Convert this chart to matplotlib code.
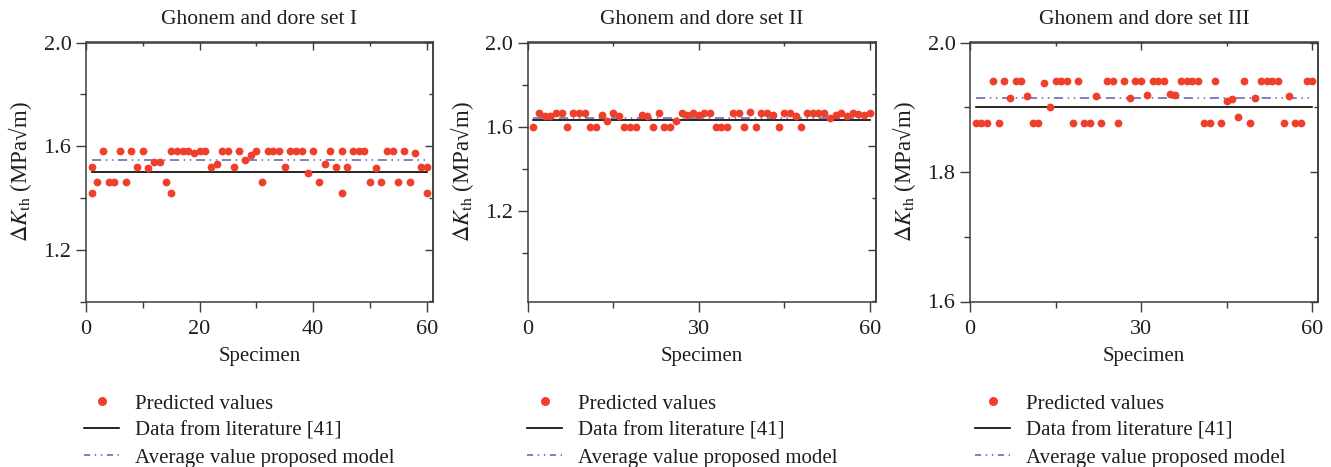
import matplotlib
matplotlib.use("Agg")
import matplotlib.pyplot as plt
from matplotlib.lines import Line2D
from matplotlib.ticker import FixedLocator, FormatStrFormatter

plt.rcParams['font.family'] = ['Liberation Serif', 'DejaVu Serif']
plt.rcParams['mathtext.fontset'] = 'stix'

# ---------------- data ----------------
titles = ["Ghonem and dore set I", "Ghonem and dore set II", "Ghonem and dore set III"]

set1_specimen = [1, 1, 2, 3, 4, 5, 6, 7, 8, 9, 10, 11, 12, 13, 14, 15, 15,
                 16, 17, 18, 19, 20, 21, 22, 23, 24, 25, 26, 27, 28, 29, 30,
                 31, 32, 33, 34, 35, 36, 37, 38, 39, 40, 41, 42, 43, 44, 45, 45,
                 46, 47, 48, 49, 50, 51, 52, 53, 54, 55, 56, 57, 58, 59, 60, 60]
set1_pred = [1.42, 1.52, 1.46, 1.58, 1.46, 1.46, 1.58, 1.46, 1.58, 1.52, 1.58,
             1.515, 1.54, 1.54, 1.46, 1.42, 1.58,
             1.58, 1.58, 1.58, 1.575, 1.58, 1.58, 1.52, 1.53, 1.58, 1.58, 1.52,
             1.58, 1.545, 1.565, 1.58,
             1.46, 1.58, 1.58, 1.58, 1.52, 1.58, 1.58, 1.58, 1.495, 1.58, 1.46,
             1.53, 1.58, 1.52, 1.42, 1.58,
             1.52, 1.58, 1.58, 1.58, 1.46, 1.515, 1.46, 1.58, 1.58, 1.46, 1.58,
             1.46, 1.575, 1.52, 1.52, 1.42]
set1_literature = 1.50
set1_average = 1.545

set2_specimen = list(range(1, 61))
set2_pred = [1.60, 1.665, 1.65, 1.65, 1.665, 1.665, 1.60, 1.665, 1.665, 1.665,
             1.60, 1.60, 1.658, 1.628, 1.665, 1.652, 1.60, 1.60, 1.60, 1.655,
             1.65, 1.60, 1.665, 1.60, 1.60, 1.628, 1.665, 1.656, 1.665, 1.658,
             1.665, 1.665, 1.60, 1.60, 1.60, 1.665, 1.665, 1.60, 1.668, 1.60,
             1.665, 1.665, 1.655, 1.60, 1.665, 1.665, 1.652, 1.60, 1.665, 1.665,
             1.665, 1.665, 1.64, 1.658, 1.665, 1.65, 1.665, 1.66, 1.658, 1.665]
set2_literature = 1.633
set2_average = 1.642

set3_specimen = list(range(1, 61))
set3_pred = [1.875, 1.875, 1.875, 1.94, 1.875, 1.94, 1.915, 1.94, 1.94, 1.918,
             1.875, 1.875, 1.938, 1.90, 1.94, 1.94, 1.94, 1.875, 1.94, 1.875,
             1.875, 1.917, 1.875, 1.94, 1.94, 1.875, 1.94, 1.915, 1.94, 1.94,
             1.919, 1.94, 1.94, 1.94, 1.921, 1.919, 1.94, 1.94, 1.94, 1.94,
             1.875, 1.875, 1.94, 1.875, 1.91, 1.913, 1.885, 1.94, 1.875, 1.914,
             1.94, 1.94, 1.94, 1.94, 1.875, 1.918, 1.875, 1.875, 1.94, 1.94]
set3_literature = 1.90
set3_average = 1.914

y_limits = [(1.0, 2.0), (0.77, 2.0), (1.6, 2.0)]
y_major = [[1.2, 1.6, 2.0], [1.2, 1.6, 2.0], [1.6, 1.8, 2.0]]
y_minor = [[1.0, 1.4, 1.8], [1.0, 1.4, 1.8], [1.7, 1.9]]
x_major = [[0, 20, 40, 60], [0, 30, 60], [0, 30, 60]]
x_minor = [[10, 30, 50], [15, 45], [15, 45]]

legend_labels = ["Predicted values", "Data from literature [41]", "Average value proposed model"]

# ---------------- style ----------------
RED = '#ef3f2a'
BLUE = '#5a5fb0'
SPINE = '#3c3c3c'
TXT = '#1e1e1e'

W, H = 1331, 467
fig = plt.figure(figsize=(W / 100, H / 100), dpi=100)

axes_px = [(86, 432.5), (527.5, 875.5), (970, 1318)]
top_px, bot_px = 42.5, 301.5
legend_x = [84, 527, 975]

specimens = [set1_specimen, set2_specimen, set3_specimen]
preds = [set1_pred, set2_pred, set3_pred]
lits = [set1_literature, set2_literature, set3_literature]
avgs = [set1_average, set2_average, set3_average]

for i in range(3):
    l, r = axes_px[i]
    axw = r - l
    axh = bot_px - top_px
    ax = fig.add_axes([l / W, 1 - bot_px / H, axw / W, axh / H])
    xs, ys = specimens[i], preds[i]
    assert len(xs) == len(ys)
    xline = [min(xs), max(xs)]
    ax.plot(xline, [lits[i]] * 2, color='black', lw=1.2, zorder=2)
    ax.plot(xline, [avgs[i]] * 2, color=BLUE, lw=1.1, dashes=(6, 3, 1, 3, 1, 3), zorder=2)
    ax.plot(xs, ys, 'o', color=RED, ms=5.6, mec='none', zorder=3)

    ax.set_xlim(0, 61)
    ax.set_ylim(*y_limits[i])
    ax.xaxis.set_major_locator(FixedLocator(x_major[i]))
    ax.xaxis.set_minor_locator(FixedLocator(x_minor[i]))
    ax.yaxis.set_major_locator(FixedLocator(y_major[i]))
    ax.yaxis.set_minor_locator(FixedLocator(y_minor[i]))
    ax.yaxis.set_major_formatter(FormatStrFormatter('%.1f'))
    ax.tick_params(which='both', direction='out', colors=SPINE, labelcolor=TXT,
                   labelsize=16, width=1.0, top=False, right=False)
    ax.tick_params(which='major', length=7)
    ax.tick_params(which='minor', length=4)
    ax.tick_params(axis='x', pad=6)
    for s in ax.spines.values():
        s.set_color(SPINE)
        s.set_linewidth(1.1)

    # mirrored top axis (inward ticks)
    sx = ax.secondary_xaxis('top')
    sx.xaxis.set_major_locator(FixedLocator(x_major[i]))
    sx.xaxis.set_minor_locator(FixedLocator(x_minor[i]))
    sx.tick_params(which='both', direction='in', colors=SPINE, labeltop=False, width=1.0)
    sx.tick_params(which='major', length=6)
    sx.tick_params(which='minor', length=3)
    sx.spines['top'].set_color(SPINE)
    sx.spines['top'].set_linewidth(1.1)

    # mirrored right axis (inward ticks); set II's right axis keeps the 1.0-2.0 scale
    lo, hi = y_limits[i]
    if i == 1:
        f = lambda v, lo=lo, hi=hi: 1.0 + (v - lo) / (hi - lo)
        finv = lambda v, lo=lo, hi=hi: lo + (v - 1.0) * (hi - lo)
        sy = ax.secondary_yaxis('right', functions=(f, finv))
        sy.yaxis.set_major_locator(FixedLocator([1.2, 1.6, 2.0]))
        sy.yaxis.set_minor_locator(FixedLocator([1.0, 1.4, 1.8]))
    else:
        sy = ax.secondary_yaxis('right')
        sy.yaxis.set_major_locator(FixedLocator(y_major[i]))
        sy.yaxis.set_minor_locator(FixedLocator(y_minor[i]))
    sy.tick_params(which='both', direction='in', colors=SPINE, labelright=False, width=1.0)
    sy.tick_params(which='major', length=6)
    sy.tick_params(which='minor', length=3)
    sy.spines['right'].set_color(SPINE)
    sy.spines['right'].set_linewidth(1.1)

    ax.set_xlabel("Specimen", fontsize=15, color=TXT)
    ax.xaxis.set_label_coords(0.5, -(347 - bot_px) / axh)
    ax.set_ylabel(r'$\Delta K_{\mathrm{th}}$ (MPa√m)', fontsize=16.5, color=TXT)
    ax.yaxis.set_label_coords(-52 / axw, 0.5)
    ax.text(0.5, 1 + (top_px - 20) / axh, titles[i], transform=ax.transAxes,
            ha='center', va='center', fontsize=15.5, color=TXT)

    handles = [Line2D([], [], marker='o', ls='none', color=RED, ms=6.5, mec='none'),
               Line2D([], [], color='black', lw=1.2),
               Line2D([], [], color=BLUE, lw=1.1, dashes=(4, 3, 1, 3, 1, 3))]
    fig.legend(handles, legend_labels, loc='upper left',
               bbox_to_anchor=(legend_x[i] / W, 1 - 394 / H), bbox_transform=fig.transFigure,
               frameon=False, fontsize=15, handlelength=1.7, handletextpad=0.75,
               labelspacing=0.36, borderpad=0, borderaxespad=0, labelcolor=TXT)

fig.savefig("out.png", dpi=100)
